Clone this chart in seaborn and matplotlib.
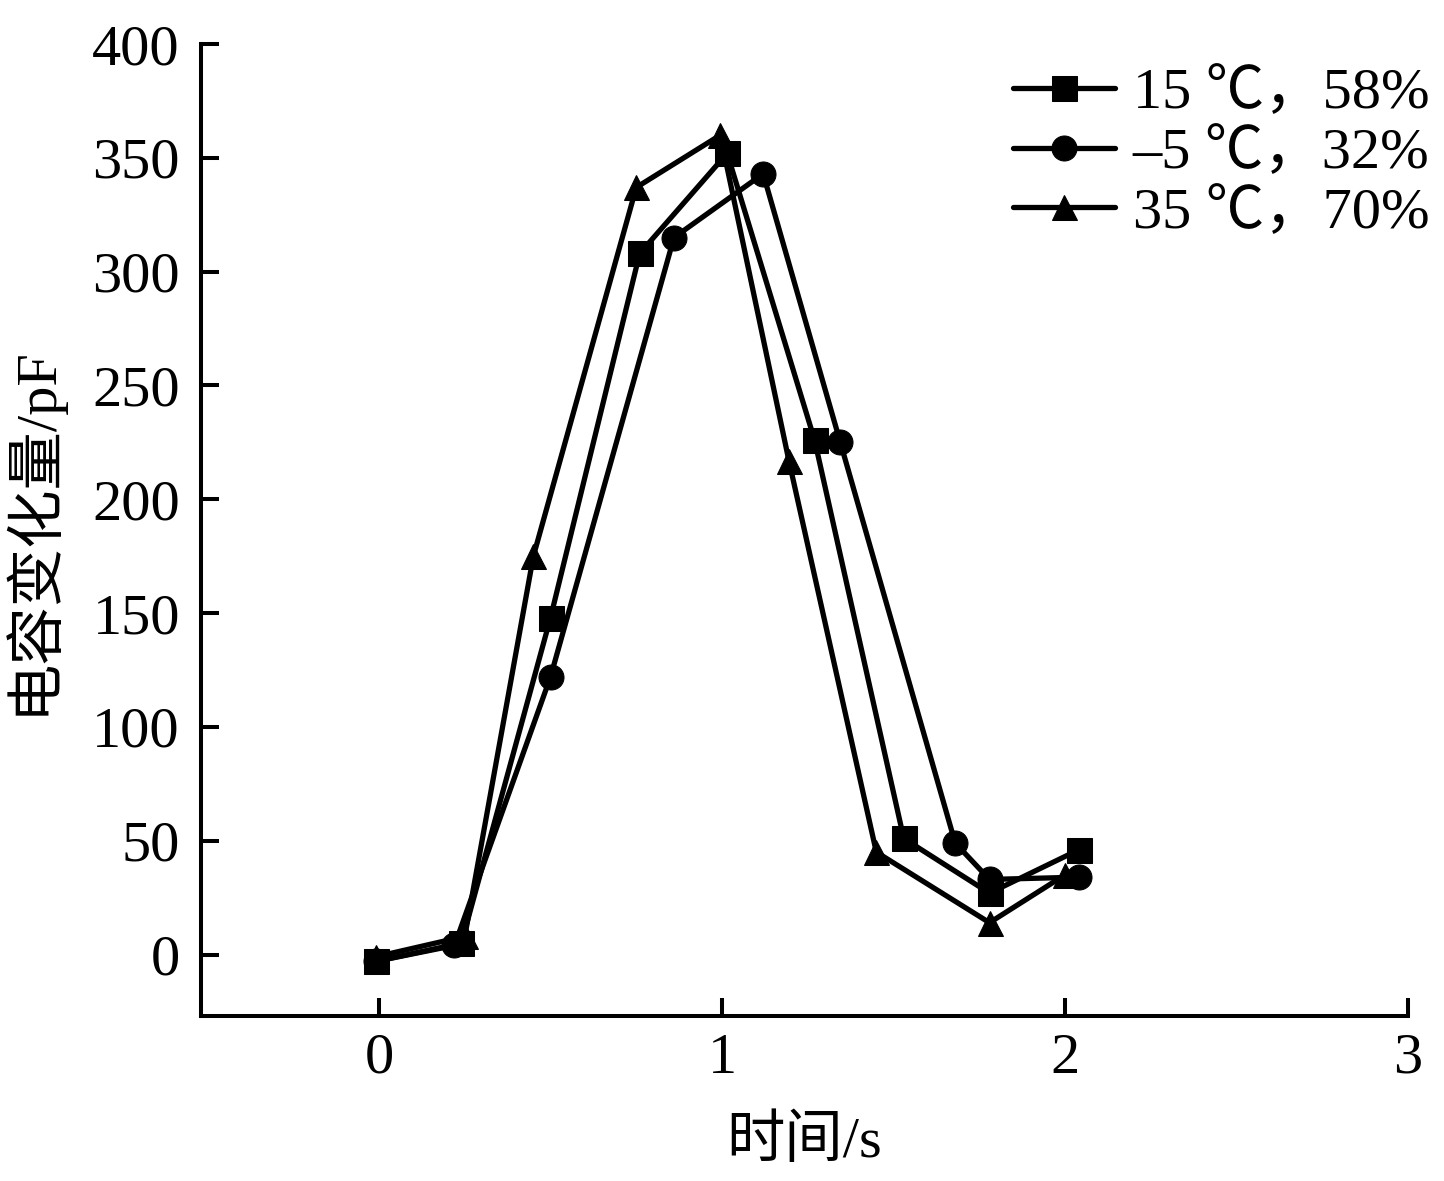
import pandas as pd
import seaborn as sns
import matplotlib
matplotlib.use('Agg')
import matplotlib.pyplot as plt

# 数据
labels = ['15 ℃，58%', '–5 ℃，32%', '35 ℃，70%']

t_15 = [-0.01, 0.24, 0.50, 0.76, 1.015, 1.27, 1.53, 1.78, 2.04]
c_15 = [-3, 5, 148, 308, 352, 226, 51, 27, 46]

t_m5 = [-0.01, 0.22, 0.50, 0.86, 1.12, 1.345, 1.68, 1.78, 2.04]
c_m5 = [-3, 4, 122, 315, 343, 225, 49, 33, 34]

t_35 = [-0.01, 0.25, 0.45, 0.75, 0.995, 1.195, 1.45, 1.78, 2.0]
c_35 = [-1, 8, 175, 337, 360, 217, 45, 14, 35]

df = pd.concat([
    pd.DataFrame({'t': t_15, 'c': c_15, 'cond': labels[0]}),
    pd.DataFrame({'t': t_m5, 'c': c_m5, 'cond': labels[1]}),
    pd.DataFrame({'t': t_35, 'c': c_35, 'cond': labels[2]}),
])

sns.set_style('ticks')
plt.rcParams['font.family'] = ['Liberation Serif', 'Noto Sans CJK SC']
plt.rcParams['axes.linewidth'] = 2.9
plt.rcParams['axes.edgecolor'] = 'black'
plt.rcParams['text.color'] = 'black'
plt.rcParams['axes.labelcolor'] = 'black'

fig = plt.figure(figsize=(14.44, 11.81), dpi=100)
ax = fig.add_axes([0.139, 0.1397, 0.836, 0.823])

sns.lineplot(data=df, x='t', y='c', hue='cond', style='cond',
             palette=['black'] * 3, markers={labels[0]: 's', labels[1]: 'o', labels[2]: '^'},
             dashes=False, estimator=None, sort=False, linewidth=3.8,
             markersize=18, markeredgecolor='black', ax=ax)

ax.set_xlim(-0.52, 3.0)
ax.set_ylim(-27, 400)
ax.set_xticks([0, 1, 2, 3])
ax.set_yticks(range(0, 401, 50))
ax.tick_params(direction='in', length=13, width=2.9, labelsize=42, colors='black')
ax.tick_params(axis='y', pad=15)
ax.tick_params(axis='x', pad=12)
sns.despine(ax=ax)

ax.set_xlabel('时间/s', fontsize=42, labelpad=22)
ax.set_ylabel('电容变化量/pF', fontsize=42, labelpad=22)

leg = ax.legend(loc='upper right', bbox_to_anchor=(0.99, 0.943), bbox_transform=fig.transFigure,
                frameon=False, fontsize=42, handlelength=1.75, handletextpad=0.3,
                labelspacing=0.12, borderpad=0, borderaxespad=0, title=None)

fig.savefig('out.png', dpi=100)
